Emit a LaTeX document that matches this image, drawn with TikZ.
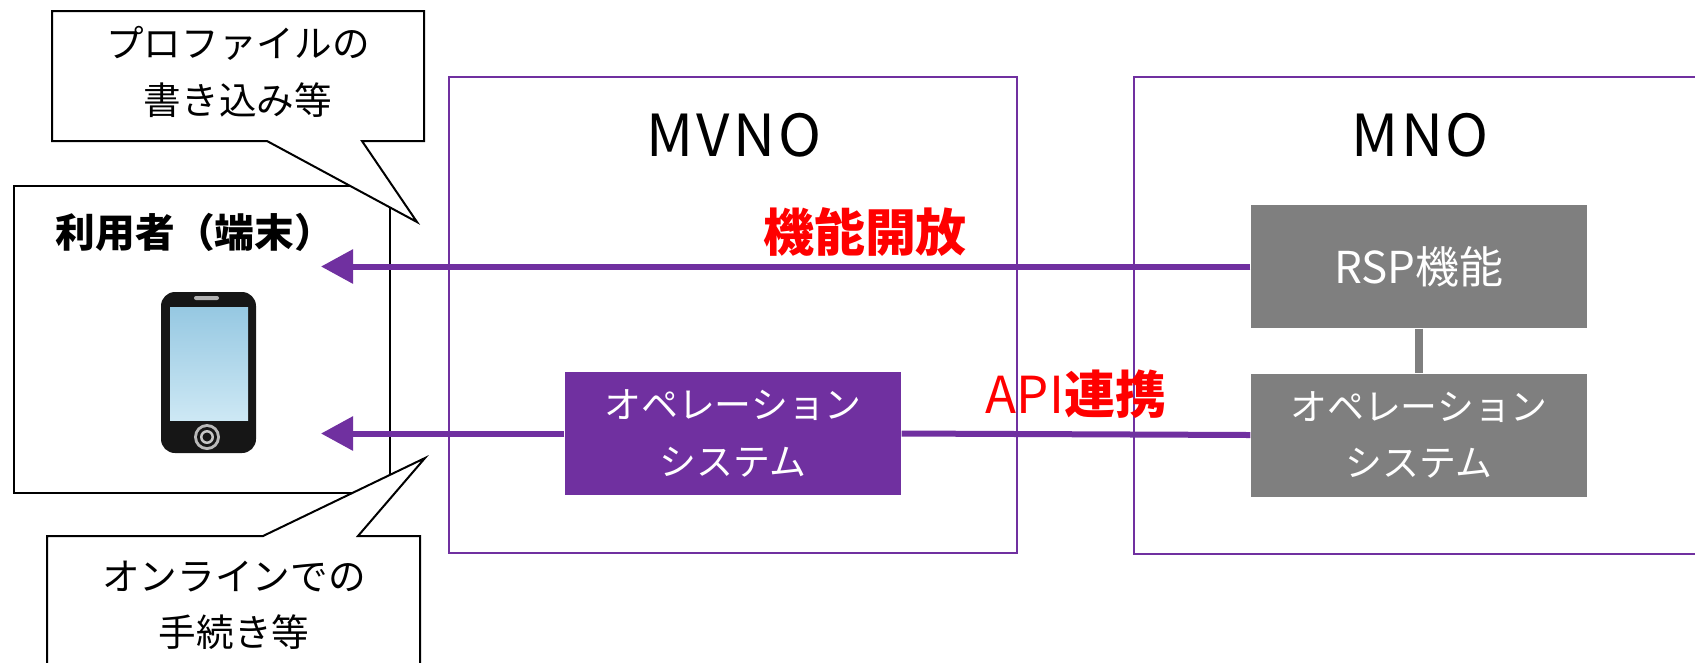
\documentclass[tikz,border=0pt]{standalone}
\usepackage{fontspec}
\setmainfont{Noto Sans CJK JP}
\usetikzlibrary{arrows.meta}

\begin{document}
\begin{tikzpicture}[x=0.1mm, y=-0.1mm,
  region/.style={draw=mvnopurple, line width=0.28mm},
  regionlabel/.style={font=\fontsize{16.5}{18}\selectfont\addfontfeature{LetterSpace=5}},
  opbox/.style={rectangle, minimum width=33.6mm, minimum height=12.3mm,
    inner sep=0pt, align=center, text=white, font=\fontsize{10.5}{16}\selectfont},
  flow/.style={draw=mvnopurple, line width=0.6mm},
  flowtip/.style={-{Triangle[length=3.2mm, width=3.3mm]}},
  callout/.style={draw=black, fill=white, line width=0.2mm, line join=miter},
  calltext/.style={align=center, font=\fontsize{10.7}{16}\selectfont},
  redlabel/.style={text=red}]

% === Colors ===
\definecolor{mvnopurple}{RGB}{112,48,160}
\definecolor{mnogray}{RGB}{127,127,127}
\definecolor{phoneblack}{RGB}{22,22,22}
\definecolor{screentop}{RGB}{150,200,226}
\definecolor{screenbot}{RGB}{205,232,244}

\useasboundingbox (0,0) rectangle (1695,662);
\clip (0,0) rectangle (1695,662);

% === Operator frames ===
\draw[region] (449,77) rectangle (1017,553);
\draw[region] (1134,77) rectangle (1720,554);
\node[regionlabel] (mvnolabel) at (734,135) {MVNO};
\node[regionlabel] (mnolabel) at (1420,135) {MNO};

% === User (handset) ===
\draw[black, line width=0.2mm] (14,186) rectangle (390,493);
\node[font=\bfseries\fontsize{11.3}{12}\selectfont] (user) at (195,232) {利用者（端末）};

% phone body, screen, speaker and home button
\fill[phoneblack, rounded corners=1.4mm] (161,292) rectangle (256,453);
\shade[top color=screentop, bottom color=screenbot] (170,307) rectangle (248,420);
\fill[gray!60, rounded corners=0.2mm] (194,296) rectangle (219,300);
\foreach \r/\c in {1.3mm/gray!55, 1.0mm/phoneblack, 0.7mm/gray!45, 0.45mm/phoneblack}{
  \fill[\c] (207,437) circle (\r);
}

% === Speech balloons ===
\filldraw[callout] (52,11) -- (424,11) -- (424,141) -- (362,141) -- (417,222)
  -- (267,141) -- (52,141) -- cycle;
\node[calltext] (writenote) at (238,72) {プロファイルの\\書き込み等};

\filldraw[callout] (47,700) -- (47,536) -- (263,536) -- (425,458) -- (358,536)
  -- (420,536) -- (420,700) -- cycle;
\node[calltext] (onlinenote) at (234,605) {オンラインでの\\手続き等};

% === Systems ===
\node[opbox, fill=mvnopurple] (mvnoops) at (733,433.5) {オペレーション\\システム};
\node[opbox, fill=mnogray, font=\fontsize{12.5}{16}\selectfont] (rsp) at (1419,266.5) {RSP機能};
\node[opbox, fill=mnogray] (mnoops) at (1419,435) {オペレーション\\システム};

% === Links ===
\coordinate (userup) at (321,266);
\coordinate (userdown) at (321,435);
\draw[flow, flowtip] (rsp.west) -- (rsp.west -| userup);
\draw[flow, flowtip] (mvnoops.west) -- (mvnoops.west -| userdown);
\draw[flow] (mvnoops.east) -- (mnoops.west);
\draw[mnogray, line width=0.8mm] (rsp.south) -- (mnoops.north);

% === Labels on the links ===
\node[redlabel, font=\bfseries\fontsize{14.5}{16}\selectfont] (openlabel) at (865,232) {機能開放};
\node[redlabel, font=\fontsize{14.5}{16}\selectfont] (apilabel) at (1076,394) {API{\bfseries 連携}};

\end{tikzpicture}
\end{document}
